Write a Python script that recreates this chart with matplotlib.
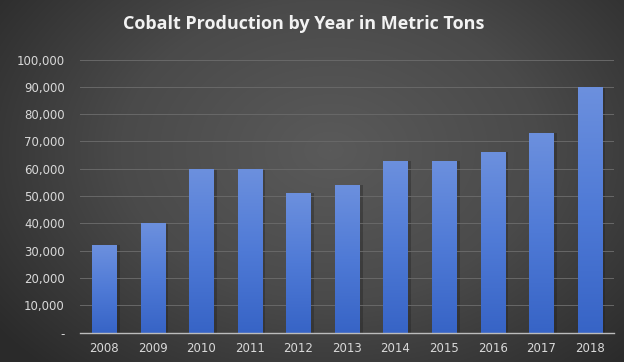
import numpy as np
import matplotlib.pyplot as plt
from matplotlib.colors import LinearSegmentedColormap

years = ['2008', '2009', '2010', '2011', '2012', '2013', '2014', '2015', '2016', '2017', '2018']
production = [32000, 40000, 60000, 60000, 51000, 54000, 63000, 63000, 66000, 73000, 90000]
yticks = [0, 10000, 20000, 30000, 40000, 50000, 60000, 70000, 80000, 90000, 100000]
ylabels = ['-'] + ['{:,}'.format(v) for v in yticks[1:]]

fig = plt.figure(figsize=(6.24, 3.62), dpi=100)

# radial grey background
bg = fig.add_axes([0, 0, 1, 1])
yy, xx = np.mgrid[0:362, 0:624]
r = np.sqrt(((xx - 330) / 420.0) ** 2 + ((yy - 150) / 300.0) ** 2)
r = np.clip(r, 0, 1)
bgcmap = LinearSegmentedColormap.from_list('bg', ['#5a5a5a', '#4a4a4a', '#2a2a2a'])
bg.imshow(r, cmap=bgcmap, aspect='auto', extent=[0, 1, 0, 1], origin='upper')
bg.axis('off')

ax = fig.add_axes([80 / 624, (362 - 332.7) / 362, (614 - 80) / 624, (332.7 - 59.5) / 362])
ax.patch.set_alpha(0)

x = np.arange(len(years))
bars = ax.bar(x, production, width=0.5, color='#4a74d2', zorder=2)

barcmap = LinearSegmentedColormap.from_list('bar', ['#3764c6', '#4f7ad6', '#6c90de'])
grad = np.linspace(0, 1, 256).reshape(-1, 1)
for b in bars:
    # soft shadow
    ax.bar(b.get_x() + b.get_width() / 2 + 0.04, b.get_height(), width=b.get_width() + 0.06,
           color='#1e1e1e', alpha=0.35, zorder=1.5)
    x0, w, h = b.get_x(), b.get_width(), b.get_height()
    im = ax.imshow(grad, cmap=barcmap, aspect='auto', extent=[x0, x0 + w, 0, h],
                   origin='lower', zorder=2.5)
    im.set_clip_path(b)

ax.set_xlim(-0.5, len(years) - 0.5)
ax.set_ylim(0, 100000)
ax.set_yticks(yticks)
ax.set_yticklabels(ylabels)
ax.set_xticks(x)
ax.set_xticklabels(years)
ax.grid(axis='y', color='#686868', linewidth=0.7, zorder=0)
for s in ['top', 'right', 'left']:
    ax.spines[s].set_visible(False)
ax.spines['bottom'].set_color('#bcbcbc')
ax.spines['bottom'].set_linewidth(1.0)
ax.spines['bottom'].set_zorder(3)
ax.tick_params(length=0, colors='#d9d9d9', labelsize=8.5)
ax.tick_params(axis='y', pad=11)
ax.tick_params(axis='x', pad=7)

fig.text(0.487, 0.934, 'Cobalt Production by Year in Metric Tons', color='#f2f2f2',
         fontsize=13, fontweight='bold', ha='center', va='center', family='Open Sans')

plt.savefig('out.png', dpi=100)
